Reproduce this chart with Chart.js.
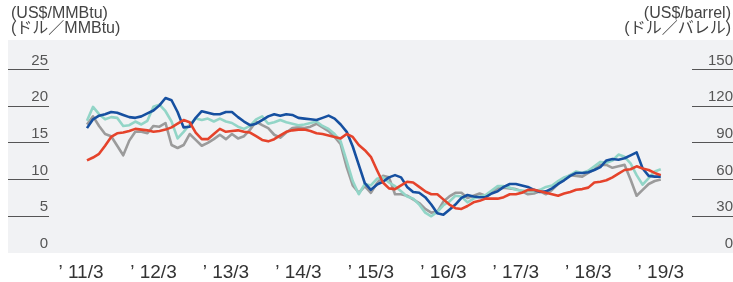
<!DOCTYPE html>
<html>
<head>
<meta charset="utf-8">
<script src="https://cdn.jsdelivr.net/npm/chart.js@4"></script>
<style>
  html, body { margin: 0; padding: 0; background: #fff; }
</style>
</head>
<body>
<canvas id="myChart" width="733" height="282"></canvas>
<script>
// monthly values, '11/3 .. '19/2 (US$/MMBtu scale)
const blueSeries = [
  17.0, 18.2, 18.7, 18.9, 19.2, 19.1, 18.8, 18.5, 18.4, 18.6,
  19.0, 19.4, 20.1, 21.1, 20.8, 19.2, 17.1, 17.2, 18.4, 19.3,
  19.1, 18.9, 18.9, 19.2, 19.2, 18.5, 17.9, 17.4, 17.6, 18.1,
  18.6, 18.9, 18.7, 18.9, 18.8, 18.4, 18.3, 18.2, 18.1, 18.4,
  18.7, 18.3, 17.5, 16.5, 14.5, 12.0, 9.5, 8.6, 9.3, 9.7,
  10.3, 10.6, 10.3, 9.0, 8.3, 8.2, 7.6, 6.6, 5.4, 5.2,
  5.9, 6.6, 7.5, 7.9, 7.7, 7.6, 7.6, 8.1, 8.4, 9.0,
  9.4, 9.4, 9.2, 9.0, 8.6, 8.3, 8.4, 8.8, 9.4, 9.9,
  10.5, 10.9, 10.9, 11.0, 11.3, 11.7, 12.6, 12.8, 12.7, 12.9,
  13.3, 13.7, 11.5, 10.5, 10.4, 10.4
];
const tealSeries = [
  18.0, 19.9, 18.9, 18.2, 18.5, 18.4, 17.3, 17.4, 17.9, 17.5,
  18.0, 19.9, 20.2, 19.3, 17.9, 15.6, 16.5, 17.5, 18.3, 18.1,
  18.3, 17.9, 18.3, 17.9, 17.7, 17.2, 16.9, 17.3, 18.2, 18.6,
  17.6, 17.8, 18.1, 17.8, 17.6, 17.4, 17.5, 17.7, 17.9, 17.3,
  16.9, 16.2, 15.2, 12.5, 9.8, 8.0, 9.4, 9.2, 10.1, 10.3,
  9.6, 9.1, 8.4, 7.7, 7.4, 6.6, 5.5, 5.0, 5.6, 6.5,
  7.0, 7.8, 7.7, 6.9, 7.4, 7.7, 7.9, 8.5, 9.1, 9.1,
  8.9, 8.6, 8.5, 8.4, 8.4, 8.6, 9.0, 9.2, 9.8, 10.3,
  10.6, 11.1, 10.9, 11.2, 11.8, 12.4, 12.3, 12.6, 13.4, 13.1,
  12.2, 10.6, 9.3, 10.2, 11.1, 11.4
];
const graySeries = [
  17.5, 18.6, 17.3, 16.2, 15.9, 14.6, 13.3, 15.3, 16.5, 16.5,
  16.3, 17.3, 17.2, 17.7, 14.7, 14.3, 14.7, 16.2, 15.4, 14.6,
  15.0, 15.5, 16.1, 15.5, 16.2, 15.6, 15.9, 16.8, 17.9, 17.4,
  17.0, 16.1, 15.7, 16.4, 17.0, 17.1, 17.0, 17.2, 17.6, 17.1,
  16.6, 15.8, 14.8, 11.7, 9.2, 8.2, 9.1, 8.2, 9.5, 10.5,
  10.3, 8.0, 8.0, 7.8, 7.3, 6.8, 6.0, 5.5, 5.6, 7.0,
  7.7, 8.2, 8.2, 7.5, 7.8, 8.1, 7.8, 8.4, 8.8, 8.9,
  8.8, 8.7, 8.4, 8.0, 8.1, 8.4, 8.0, 8.6, 9.4, 10.0,
  10.6, 10.5, 10.4, 10.9, 11.4, 12.0, 12.0, 11.6, 11.8, 12.0,
  10.0, 7.8, 8.6, 9.4, 9.8, 10.0
];
const redSeries = [
  12.6, 13.0, 13.5, 14.6, 15.8, 16.3, 16.4, 16.6, 16.9, 16.8,
  16.7, 16.5, 16.6, 16.8, 17.1, 17.6, 18.1, 17.8, 16.4, 15.5,
  15.5, 16.2, 16.9, 16.5, 16.6, 16.7, 16.5, 16.4, 15.9, 15.4,
  15.2, 15.5, 16.0, 16.5, 16.7, 16.8, 16.8, 16.6, 16.3, 16.2,
  16.0, 15.8, 15.6, 16.2, 15.8, 14.7, 14.0, 13.1, 11.3, 9.6,
  8.8, 8.7, 9.2, 9.7, 9.6, 9.0, 8.4, 8.0, 8.0, 7.3,
  6.6, 6.1, 6.0, 6.4, 6.9, 7.1, 7.4, 7.4, 7.4, 7.6,
  8.0, 8.0, 8.2, 8.6, 8.6, 8.4, 8.2, 8.0, 7.8, 8.1,
  8.3, 8.6, 8.7, 8.9, 9.6, 9.7, 9.9, 10.3, 10.8, 11.3,
  11.4, 11.8, 11.5, 11.3, 10.9, 10.6
];

// tick labels
const xTickMonths = [0, 12, 24, 36, 48, 60, 72, 84, 96];
const xTickLabels = ['’ 11/3', '’ 12/3', '’ 13/3', '’ 14/3', '’ 15/3', '’ 16/3', '’ 17/3', '’ 18/3', '’ 19/3'];
const leftTitle = ['(US$/MMBtu)', '(ドル／MMBtu)'];
const rightTitle = ['(US$/barrel)', '(ドル／バレル)'];

const FONT = '"Liberation Sans", Arial, "Noto Sans CJK JP", sans-serif';

function toPoints(arr) {
    return arr.map((v, i) => ({ x: i, y: v }));
}

function lineSet(arr, color) {
    return {
        data: toPoints(arr),
        borderColor: color,
        backgroundColor: color,
        borderWidth: 2.6,
        pointRadius: 0,
        tension: 0,
        borderJoinStyle: 'round',
        yAxisID: 'y',
    };
}

// sfondo grigio e titoli degli assi
const backdrop = {
    id: 'backdrop',
    beforeDraw(chart) {
        const ctx = chart.ctx;
        const area = chart.chartArea;
        const left = chart.scales.y.left;
        const right = chart.scales.y2.right;
        ctx.save();
        ctx.fillStyle = '#f1f2f4';
        ctx.fillRect(left, area.top, right - left, area.bottom - area.top);
        ctx.fillStyle = '#444';
        ctx.font = '16px ' + FONT;
        ctx.textBaseline = 'middle';
        ctx.textAlign = 'left';
        ctx.fillText(leftTitle[0], 11, 14);
        ctx.fillText(leftTitle[1], 11, 29);
        ctx.textAlign = 'right';
        ctx.fillText(rightTitle[0], 731, 14);
        ctx.fillText(rightTitle[1], 731, 29);
        ctx.restore();
    }
};

const tickColor = (c) => (c.tick && c.tick.value === 0) ? 'rgba(0,0,0,0)' : '#555';

const myChart = new Chart(document.getElementById('myChart').getContext('2d'), {
    type: 'line',
    data: {
        datasets: [
            lineSet(redSeries, '#e5432b'),
            lineSet(blueSeries, '#1650a0'),
            lineSet(tealSeries, '#92d5c7'),
            lineSet(graySeries, '#9b9b9b'),
        ]
    },
    options: {
        responsive: false,
        animation: false,
        devicePixelRatio: 1,
        layout: { padding: { left: 8, top: 40, right: 0, bottom: 0 } },
        plugins: {
            legend: { display: false },
            tooltip: { enabled: false },
        },
        scales: {
            x: {
                type: 'linear',
                min: -6.29,
                max: 100.17,
                grid: { display: false },
                border: { display: false },
                afterBuildTicks: (scale) => {
                    scale.ticks = xTickMonths.map(v => ({ value: v }));
                },
                afterFit: (scale) => { scale.height = 29; },
                ticks: {
                    autoSkip: false,
                    maxRotation: 0,
                    padding: 0,
                    labelOffset: -6,
                    color: '#333',
                    font: { family: FONT, size: 19 },
                    callback: (value) => xTickLabels[xTickMonths.indexOf(value)],
                },
            },
            y: {
                position: 'left',
                min: 0,
                max: 29,
                border: { display: false },
                grid: {
                    drawOnChartArea: false,
                    drawTicks: true,
                    tickLength: 41,
                    tickColor: tickColor,
                    tickWidth: 1,
                },
                afterFit: (scale) => { scale.width = 41; },
                ticks: {
                    stepSize: 5,
                    includeBounds: false,
                    padding: -40,
                    labelOffset: -9,
                    crossAlign: 'near',
                    color: '#555',
                    font: { family: FONT, size: 15 },
                },
            },
            y2: {
                position: 'right',
                min: 0,
                max: 174,
                border: { display: false },
                grid: {
                    drawOnChartArea: false,
                    drawTicks: true,
                    tickLength: 41,
                    tickColor: tickColor,
                    tickWidth: 1,
                },
                afterFit: (scale) => { scale.width = 41; },
                ticks: {
                    stepSize: 30,
                    includeBounds: false,
                    labelOffset: -9,
                    crossAlign: 'far',
                    color: '#555',
                    font: { family: FONT, size: 15 },
                },
            },
        },
    },
    plugins: [backdrop],
});
</script>
</body>
</html>
